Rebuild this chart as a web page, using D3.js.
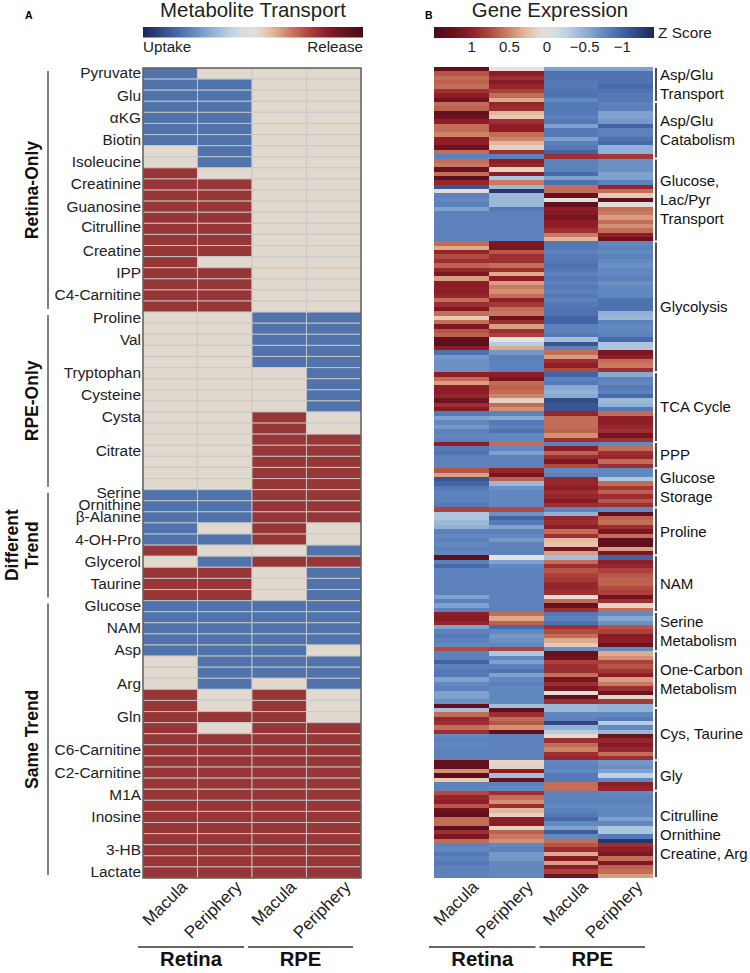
<!DOCTYPE html>
<html><head><meta charset="utf-8">
<script src="https://cdn.jsdelivr.net/npm/d3@7"></script>
<style>body{margin:0;background:#fff;} svg{display:block;}</style>
</head><body><svg id="c" width="750" height="973"></svg>
<script>
// ---------------- DATA ----------------
const sampleNames = ["Macula","Periphery","Macula","Periphery"];
const tissueNames = ["Retina","RPE"];

// Panel A: -1 = uptake, 0 = no change, 1 = release
// columns: Retina Macula, Retina Periphery, RPE Macula, RPE Periphery
const transportValues = [
[-1,0,0,0],[-1,-1,0,0],[-1,-1,0,0],[-1,-1,0,0],[-1,-1,0,0],[-1,-1,0,0],[-1,-1,0,0],
[0,-1,0,0],[0,-1,0,0],[1,0,0,0],[1,1,0,0],[1,1,0,0],[1,1,0,0],[1,1,0,0],[1,1,0,0],
[1,1,0,0],[1,1,0,0],[1,0,0,0],[1,1,0,0],[1,1,0,0],[1,1,0,0],[1,1,0,0],
[0,0,-1,-1],[0,0,-1,-1],[0,0,-1,-1],[0,0,-1,-1],[0,0,-1,-1],[0,0,0,-1],[0,0,0,-1],
[0,0,0,-1],[0,0,0,-1],[0,0,1,0],[0,0,1,0],[0,0,1,1],[0,0,1,1],[0,0,1,1],[0,0,1,1],[0,0,1,1],
[-1,-1,1,1],[-1,-1,1,1],[-1,-1,1,1],[-1,0,1,0],[-1,-1,1,0],[1,0,0,-1],[0,-1,1,1],
[1,1,0,-1],[1,1,0,-1],[1,1,0,-1],
[-1,-1,-1,-1],[-1,-1,-1,-1],[-1,-1,-1,-1],[-1,-1,-1,-1],[-1,-1,-1,0],[0,-1,-1,-1],
[0,-1,-1,-1],[0,-1,0,-1],[1,0,1,0],[1,0,1,0],[1,1,1,0],[1,0,1,1],
[1,1,1,1],[1,1,1,1],[1,1,1,1],[1,1,1,1],[1,1,1,1],[1,1,1,1],[1,1,1,1],[1,1,1,1],
[1,1,1,1],[1,1,1,1],[1,1,1,1],[1,1,1,1],[1,1,1,1]
];
const metaboliteLabels = [
"Pyruvate","","Glu","","αKG","","Biotin","","Isoleucine","","Creatinine","","Guanosine","",
"Citrulline","","Creatine","","IPP","","C4-Carnitine","",
"Proline","","Val","","","Tryptophan","","Cysteine","","Cysta","","","Citrate","","","",
"Serine","Ornithine","β-Alanine","","4-OH-Pro","","Glycerol","","Taurine","",
"Glucose","","NAM","","Asp","","","Arg","","","Gln","","","C6-Carnitine","","C2-Carnitine",
"","M1A","","Inosine","","","3-HB","","Lactate"
];
const transportGroupLabels = [["Retina-Only"],["RPE-Only"],["Different","Trend"],["Same Trend"]];
const transportGroupSizes = [22,16,10,25];

// Panel B: Z scores, columns Retina Macula, Retina Periphery, RPE Macula, RPE Periphery
const zAspGluTransport = [
[1.3,0.0,-0.6,-0.6],[0.7,1.0,-0.9,-0.9],[0.6,0.9,-0.9,-0.9],[0.65,1.05,-0.85,-0.9],
[0.6,0.95,-0.85,-0.95],[0.9,0.8,-0.9,-0.9],[1.0,0.6,-0.9,-0.85],[1.2,0.35,-0.75,-0.85]];
const zAspGluCatabolism = [
[0.6,0.95,-0.85,-0.8],[0.65,0.9,-0.85,-0.8],[1.3,0.3,-0.85,-0.6],[1.2,0.2,-0.8,-0.6],
[1.0,0.9,-0.85,-0.65],[0.6,1.0,-0.6,-1.0],[0.6,1.0,-0.85,-0.8],[0.5,0.6,-0.85,-0.8],
[1.0,0.5,-0.6,-0.9],[1.0,0.3,-0.8,-0.95],[1.2,0.15,-0.85,-0.5],[0.6,0.9,-1.0,-0.5],
[-0.8,-0.8,0.9,0.85]];
const zGlucoseTransport = [
[0.6,1.0,-0.8,-0.7],[0.55,0.95,-0.8,-0.7],[1.25,0.15,-0.8,-0.7],[0.6,1.0,-0.95,-0.6],
[1.35,-0.35,-0.6,-0.6],[0.95,0.55,-0.9,-0.8],[-1.1,-0.45,0.6,0.95],[0.05,-1.3,0.6,0.6],
[-0.8,-0.45,1.25,0.2],[-0.75,-0.45,0.05,1.3],[-0.8,-0.45,1.3,0.05],[-0.6,-0.85,1.0,0.6],
[-0.8,-0.8,1.05,0.55],[-0.8,-0.8,1.15,0.4],[-0.8,-0.8,1.0,0.6],[-0.8,-0.8,1.0,0.45],
[-0.8,-0.8,0.9,0.6],[-0.8,-0.8,0.55,1.0],[-0.8,-0.8,0.3,1.2]];
const zGlycolysis = [
[0.6,1.1,-0.85,-0.75],[0.35,1.15,-0.85,-0.8],[0.95,0.7,-0.8,-0.75],[0.75,0.9,-0.85,-0.8],
[0.9,0.9,-0.85,-0.75],[0.65,0.6,-0.9,-0.7],[0.95,0.9,-0.85,-0.75],[1.1,0.35,-0.8,-0.75],
[0.4,1.0,-0.85,-0.8],[1.0,0.4,-0.8,-0.7],[1.0,0.55,-0.85,-0.75],[1.0,0.45,-0.8,-0.75],
[0.95,0.6,-0.85,-0.75],[0.6,1.0,-0.8,-0.9],[0.9,0.85,-0.85,-0.9],[1.1,0.6,-0.9,-0.9],
[0.6,0.55,-0.9,-0.5],[0.2,1.2,-1.0,-0.45],[0.6,0.9,-1.0,-0.8],[1.1,0.4,-0.8,-0.75],
[0.7,0.9,-0.8,-0.75],[0.65,0.8,-0.85,-0.8],[1.3,0.0,-0.4,-0.95],[1.35,-0.3,-1.1,-0.35],
[1.0,0.35,-0.8,-0.35],[-0.9,-0.65,0.6,1.1],[-0.65,-0.8,0.4,1.0],[-0.7,-0.8,0.9,0.6],
[-0.7,-0.8,1.0,0.55],[-0.7,-0.8,0.75,0.9]];
const zTCA = [
[1.0,1.0,-1.0,-0.55],[0.6,1.15,-0.8,-0.8],[0.4,0.6,-0.85,-0.75],[1.0,0.65,-0.55,-0.85],
[1.0,0.6,-0.5,-0.8],[0.95,0.5,-0.55,-0.95],[1.2,0.15,-1.15,-0.45],[0.9,0.6,-1.1,-0.5],
[1.05,0.45,-1.1,-0.85],[-0.85,-0.8,0.95,0.6],[-0.6,-0.55,0.6,1.0],[-0.75,-0.85,0.6,1.0],
[-0.65,-0.8,0.6,0.95],[-0.8,-0.9,0.65,0.9],[-0.75,-0.75,0.45,1.15],[-0.8,-0.75,0.9,0.9]];
const zPPP = [
[1.0,0.6,-0.8,-0.75],[-0.85,-0.75,1.0,0.6],[-0.9,-0.6,0.65,0.9],[-0.8,-0.8,0.9,0.95],
[-0.8,-0.8,1.1,0.6],[-0.8,-0.8,0.75,0.9]];
const zGlucoseStorage = [
[0.7,0.95,-0.75,-0.75],[0.4,1.15,-0.8,-0.75],[-1.1,0.65,0.95,-0.35],[-1.0,-0.45,0.95,0.6],
[-0.85,-0.7,1.0,0.85],[-0.8,-0.75,0.9,0.65],[-0.8,-0.75,0.95,0.9],[-0.8,-0.75,1.05,0.7],
[-0.85,-0.75,0.9,0.9]];
const zProline = [
[0.8,0.75,-0.8,-0.75],[-0.35,-0.7,-0.5,1.3],[-0.35,-1.0,0.95,0.65],[-0.45,-0.85,0.9,0.6],
[-0.5,-0.6,1.0,0.9],[-0.8,-0.8,0.6,1.1],[-0.75,-0.75,0.9,0.6],[-0.8,-0.65,0.3,1.3],
[-0.75,-0.8,0.25,1.3],[-0.8,-0.8,1.15,0.4],[-0.75,-0.8,0.4,1.1]];
const zNAM = [
[1.3,0.0,-0.4,-1.0],[-0.8,-0.6,0.6,1.0],[-0.95,-0.75,0.9,0.95],[-0.8,-0.8,0.7,0.8],
[-0.8,-0.8,0.8,0.7],[-0.8,-0.8,0.85,0.65],[-0.8,-0.8,0.95,0.65],[-0.8,-0.8,0.95,0.75],
[-0.8,-0.8,0.9,0.8],[-0.6,-0.8,0.05,1.2],[-0.8,-0.8,0.6,0.9],[-0.6,-0.8,1.25,0.1],
[-0.8,-0.8,0.9,0.6]];
const zSerine = [
[1.0,0.6,-0.85,-0.75],[1.05,0.35,-0.8,-0.55],[0.95,0.65,-0.9,-0.7],[-0.6,-0.95,0.9,0.7],
[-0.8,-0.75,0.75,0.8],[-0.85,-0.65,0.6,1.05],[-0.8,-0.7,0.35,1.0],[-0.75,-0.75,0.2,1.2],
[0.75,0.8,-0.7,-0.75]];
const zOneCarbon = [
[-0.8,-0.35,1.25,0.35],[-0.8,-0.75,1.2,0.45],[-1.0,-0.6,0.8,0.8],[-0.8,-0.8,0.9,0.7],
[-0.85,-0.9,0.9,0.85],[-0.85,-0.6,0.6,1.0],[-0.6,-0.75,1.15,0.4],[-0.75,-0.8,0.9,0.55],
[-0.8,-0.75,1.1,0.9],[-0.6,-0.75,0.05,1.2],[-0.6,-0.75,1.3,0.1],[-0.7,-0.75,0.9,0.85],
[1.3,-0.4,-0.45,-0.5]];
const zCysTaurine = [
[-0.4,1.3,-0.45,-0.5],[0.6,0.9,-0.75,-0.75],[0.95,0.6,-0.8,-0.85],[0.9,0.7,-1.2,-0.3],
[0.6,0.45,-0.5,-0.75],[0.9,1.3,-0.3,-0.45],[-0.75,-0.8,0.1,1.2],[-0.8,-0.8,0.9,0.95],
[-0.75,-0.8,0.6,1.05],[-0.8,-0.8,0.5,0.95],[-0.8,-0.8,0.9,0.6],[-0.8,-0.8,0.95,0.9]];
const zGly = [
[1.3,0.1,-0.75,-0.65],[1.3,0.15,-0.8,-0.7],[0.45,1.0,-0.75,-0.6],[1.35,-0.4,-0.85,-0.25],
[0.2,1.25,-0.85,-0.75],[-0.8,-0.8,0.6,1.0],[-0.8,-0.75,0.6,0.95]];
const zUreaCycle = [
[0.75,0.9,-0.8,-0.75],[0.95,0.6,-0.8,-0.8],[1.0,0.45,-0.8,-0.8],[0.7,0.9,-0.75,-0.75],
[1.2,0.3,-0.8,-0.75],[1.3,0.15,-0.85,-0.75],[0.6,1.0,-0.95,-0.6],[0.6,1.0,-0.75,-0.75],
[1.3,0.15,-0.6,-0.35],[0.9,0.65,-1.05,-0.35],[1.1,0.55,-0.75,-0.85],[0.6,0.45,0.6,-1.3],
[-0.8,-0.75,0.7,0.9],[-0.75,-0.8,0.9,1.0],[-0.85,-0.65,0.35,1.1],[-0.8,-0.65,1.05,0.6],
[-0.85,-0.75,0.4,1.1],[-0.8,-0.75,1.0,0.65],[-0.8,-0.75,0.8,0.6],[-0.8,-0.75,1.2,0.4]];

const geneGroupNames = [["Asp/Glu","Transport"],["Asp/Glu","Catabolism"],["Glucose,","Lac/Pyr","Transport"],
["Glycolysis"],["TCA Cycle"],["PPP"],["Glucose","Storage"],["Proline"],["NAM"],["Serine","Metabolism"],
["One-Carbon","Metabolism"],["Cys, Taurine"],["Gly"],["Citrulline","Ornithine","Creatine, Arg"]];
const geneGroupValues = [zAspGluTransport,zAspGluCatabolism,zGlucoseTransport,zGlycolysis,zTCA,zPPP,
zGlucoseStorage,zProline,zNAM,zSerine,zOneCarbon,zCysTaurine,zGly,zUreaCycle];
const zTicks = [1,0.5,0,-0.5,-1];

// ---------------- STYLE ----------------
const FONT = "'Liberation Sans', Arial, Helvetica, sans-serif";
const zStops  = [1.5, 1.2, 1.0, 0.75, 0.5, 0.25, 0, -0.25, -0.5, -0.75, -1.0, -1.42];
const zColors = ["#4a0c19","#6d1420","#8e1d27","#b24a3f","#cd8567","#e8c3a8","#e3e3e4","#c0d2e5","#92b1d6","#6288c0","#4263a6","#1d2758"];
const zColor = d3.scaleLinear().domain(zStops).range(zColors).clamp(true);
const transportColor = d3.scaleOrdinal().domain([-1,0,1]).range(["#5073ab","#e1d8ce","#973636"]);
// small vertical nudges (px) for crowded row labels
const labelNudge = {"Serine": -2, "Ornithine": -1.5, "β-Alanine": -0.5, "Citrulline": -1.5};

const svg = d3.select("#c").style("font-family", FONT);
const defs = svg.append("defs");

function gradient(id, from, to) {
  const g = defs.append("linearGradient").attr("id", id).attr("x1","0").attr("x2","1").attr("y1","0").attr("y2","0");
  d3.range(0, 1.0001, 0.05).forEach(t => {
    g.append("stop").attr("offset", t).attr("stop-color", zColor(from + (to - from) * t));
  });
}
gradient("gA", -1.42, 1.5);
gradient("gB", 1.5, -1.42);

// ---------------- PANEL A ----------------
const xL = d3.scaleBand().domain(d3.range(4)).range([143, 361]);
const yL = d3.scaleBand().domain(d3.range(transportValues.length)).range([68, 878]);

svg.append("text").attr("x", 25).attr("y", 19).attr("font-size", 10.5).attr("font-weight", "bold").text("A");
svg.append("text").attr("x", 253).attr("y", 17).attr("text-anchor","middle").attr("font-size", 20.4).attr("fill","#222").text("Metabolite Transport");
svg.append("rect").attr("x", 143).attr("y", 27).attr("width", 220).attr("height", 10.5).attr("fill", "url(#gA)");
svg.append("text").attr("x", 143).attr("y", 51.5).attr("font-size", 15.2).attr("fill","#222").text("Uptake");
svg.append("text").attr("x", 363).attr("y", 51.5).attr("text-anchor","end").attr("font-size", 15.2).attr("fill","#222").text("Release");

const cellsA = transportValues.flatMap((row, i) => row.map((v, j) => ({i, j, v})));
svg.append("g").selectAll("rect").data(cellsA).join("rect")
  .attr("x", d => xL(d.j)).attr("y", d => yL(d.i))
  .attr("width", xL.bandwidth()).attr("height", yL.bandwidth())
  .attr("fill", d => transportColor(d.v))
  .attr("stroke", "#c8c8c8").attr("stroke-opacity", 0.8).attr("stroke-width", 1.1);
svg.append("rect").attr("x", 143).attr("y", 68).attr("width", 218).attr("height", 810)
  .attr("fill", "none").attr("stroke", "#444").attr("stroke-width", 1.2);

const axL = svg.append("g").attr("transform", "translate(141,0)")
  .call(d3.axisLeft(yL).tickSize(0).tickPadding(0).tickFormat(i => metaboliteLabels[i]));
axL.select(".domain").remove();
axL.selectAll("text").attr("font-size", 15.4).attr("font-family", FONT).attr("fill", "#222")
  .attr("y", i => labelNudge[metaboliteLabels[i]] || 0);

let start = 0;
transportGroupSizes.forEach((n, gi) => {
  const y0 = yL(start) + 3, y1 = yL(start + n - 1) + yL.bandwidth() - 3;
  svg.append("line").attr("x1", 48).attr("x2", 48).attr("y1", y0).attr("y2", y1)
    .attr("stroke", "#555").attr("stroke-width", 1.5);
  const lines = transportGroupLabels[gi];
  const mid = (y0 + y1) / 2;
  lines.forEach((t, k) => {
    const bx = 38 - (lines.length - 1 - k) * 20;
    svg.append("text").attr("transform", `translate(${bx},${mid}) rotate(-90)`)
      .attr("text-anchor", "middle").attr("font-size", 17.5).attr("font-weight", "bold").attr("fill", "#111").text(t);
  });
  start += n;
});

// ---------------- PANEL B ----------------
const geneRows = geneGroupValues.flat();
const xR = d3.scaleBand().domain(d3.range(4)).range([434, 653]);
const yR = d3.scaleBand().domain(d3.range(geneRows.length)).range([67, 878]);
const zx = d3.scaleLinear().domain([1.5, -1.42]).range([434, 654]);

svg.append("text").attr("x", 425).attr("y", 19).attr("font-size", 10.5).attr("font-weight", "bold").text("B");
svg.append("text").attr("x", 550).attr("y", 17).attr("text-anchor","middle").attr("font-size", 20.4).attr("fill","#222").text("Gene Expression");
svg.append("rect").attr("x", 434).attr("y", 27).attr("width", 220).attr("height", 11).attr("fill", "url(#gB)");
svg.append("text").attr("x", 658).attr("y", 37.5).attr("font-size", 15.4).attr("fill","#222").text("Z Score");
svg.append("g").selectAll("text").data(zTicks).join("text")
  .attr("x", d => zx(d)).attr("y", 52).attr("text-anchor", "middle").attr("font-size", 15).attr("fill","#222")
  .text(d => d3.format("")(d));

const cellsB = geneRows.flatMap((row, i) => row.map((v, j) => ({i, j, v})));
svg.append("g").attr("shape-rendering", "crispEdges").selectAll("rect").data(cellsB).join("rect")
  .attr("x", d => xR(d.j)).attr("y", d => yR(d.i))
  .attr("width", xR.bandwidth() + 0.3).attr("height", yR.bandwidth() + 0.3)
  .attr("fill", d => zColor(d.v));

start = 0;
geneGroupValues.forEach((arr, gi) => {
  const n = arr.length;
  const y0 = yR(start) + 1, y1 = yR(start + n - 1) + yR.bandwidth() - 1;
  svg.append("line").attr("x1", 656).attr("x2", 656).attr("y1", y0).attr("y2", y1)
    .attr("stroke", "#111").attr("stroke-width", 1.5);
  const lines = geneGroupNames[gi];
  const mid = (y0 + y1) / 2;
  lines.forEach((t, k) => {
    svg.append("text").attr("x", 660).attr("y", mid + (k - (lines.length - 1) / 2) * 19 + 5.2)
      .attr("font-size", 15).attr("fill", "#111").text(t);
  });
  start += n;
});

// ---------------- BOTTOM LABELS ----------------
function bottom(xs) {
  const g = svg.append("g");
  sampleNames.forEach((s, j) => {
    const cx = xs(j) + xs.bandwidth() / 2 + 18;
    g.append("text").attr("transform", `translate(${cx},888) rotate(-45)`)
      .attr("text-anchor", "end").attr("font-size", 17).attr("fill", "#222").text(s);
  });
  const bw = xs.bandwidth();
  const segs = [[xs(0) - 5, xs(2) - 8], [xs(2) - 4, xs(3) + bw - 8]];
  segs.forEach((sg, k) => {
    g.append("line").attr("x1", sg[0]).attr("x2", sg[1]).attr("y1", 947).attr("y2", 947)
      .attr("stroke", "#333").attr("stroke-width", 1.5);
    g.append("text").attr("x", (sg[0] + sg[1]) / 2).attr("y", 966).attr("text-anchor", "middle")
      .attr("font-size", 20.3).attr("font-weight", "bold").attr("fill", "#111").text(tissueNames[k]);
  });
}
bottom(xL);
bottom(xR);
</script></body></html>
